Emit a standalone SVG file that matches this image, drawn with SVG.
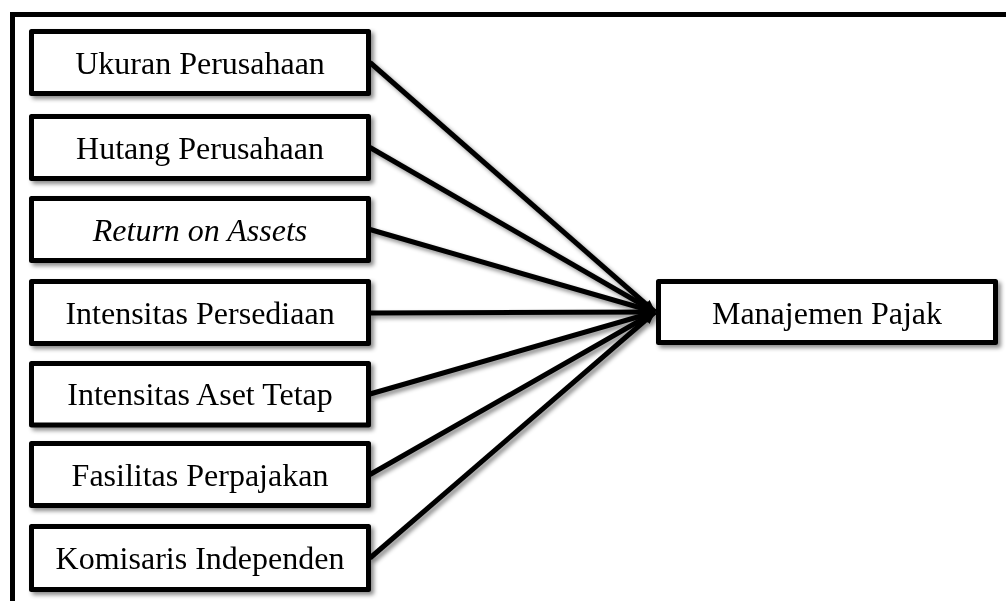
<svg xmlns="http://www.w3.org/2000/svg" width="1006" height="601" viewBox="0 0 1006 601">
<style>
.box{fill:#fff;stroke:#000;stroke-width:5;stroke-linejoin:round}
.lbl{font-family:"Liberation Serif","Times New Roman",serif;font-size:32px;fill:#000;text-anchor:middle}
.it{font-style:italic}
.edge{stroke:#000;stroke-width:5;fill:none;marker-end:url(#ah)}
</style>
<defs>
<filter id="sh" x="-10%" y="-10%" width="130%" height="140%">
<feDropShadow dx="3" dy="3" stdDeviation="2" flood-color="#000" flood-opacity="0.45"/>
</filter>
<marker id="ah" markerUnits="userSpaceOnUse" markerWidth="13" markerHeight="11" refX="12" refY="5.5" orient="auto">
<path d="M0,0 L13,5.5 L0,11 z" fill="#000"/>
</marker>
</defs>
<rect width="1006" height="601" fill="#fff"/>
<path d="M12.5,601 V14.5 H1006" fill="none" stroke="#000" stroke-width="5"/>
<g id="connectors" filter="url(#sh)">
<line class="edge" x1="370" y1="62.5" x2="655" y2="312"/>
<line class="edge" x1="370" y1="147.5" x2="655" y2="312"/>
<line class="edge" x1="370" y1="229.5" x2="655" y2="312"/>
<line class="edge" x1="370" y1="313" x2="655" y2="312"/>
<line class="edge" x1="370" y1="394" x2="655" y2="312"/>
<line class="edge" x1="370" y1="474.5" x2="655" y2="312"/>
<line class="edge" x1="370" y1="558" x2="655" y2="312"/>
</g>
<g id="n1" filter="url(#sh)"><rect class="box" x="31.5" y="31.5" width="337" height="62"/><text class="lbl" x="200" y="73.5">Ukuran Perusahaan</text></g>
<g id="n2" filter="url(#sh)"><rect class="box" x="31.5" y="116.5" width="337" height="62"/><text class="lbl" x="200" y="158.5">Hutang Perusahaan</text></g>
<g id="n3" filter="url(#sh)"><rect class="box" x="31.5" y="198.5" width="337" height="62"/><text class="lbl it" x="200" y="240.5">Return on Assets</text></g>
<g id="n4" filter="url(#sh)"><rect class="box" x="31.5" y="281.5" width="337" height="62"/><text class="lbl" x="200" y="323.5">Intensitas Persediaan</text></g>
<g id="n5" filter="url(#sh)"><rect class="box" x="31.5" y="363.5" width="337" height="61.5"/><text class="lbl" x="200" y="405">Intensitas Aset Tetap</text></g>
<g id="n6" filter="url(#sh)"><rect class="box" x="31.5" y="443.5" width="337" height="62"/><text class="lbl" x="200" y="485.5">Fasilitas Perpajakan</text></g>
<g id="n7" filter="url(#sh)"><rect class="box" x="31.5" y="526.5" width="337" height="63"/><text class="lbl" x="200" y="569">Komisaris Independen</text></g>
<g id="target" filter="url(#sh)"><rect class="box" x="658.5" y="281.5" width="337" height="61"/><text class="lbl" x="827" y="324">Manajemen Pajak</text></g>
</svg>
